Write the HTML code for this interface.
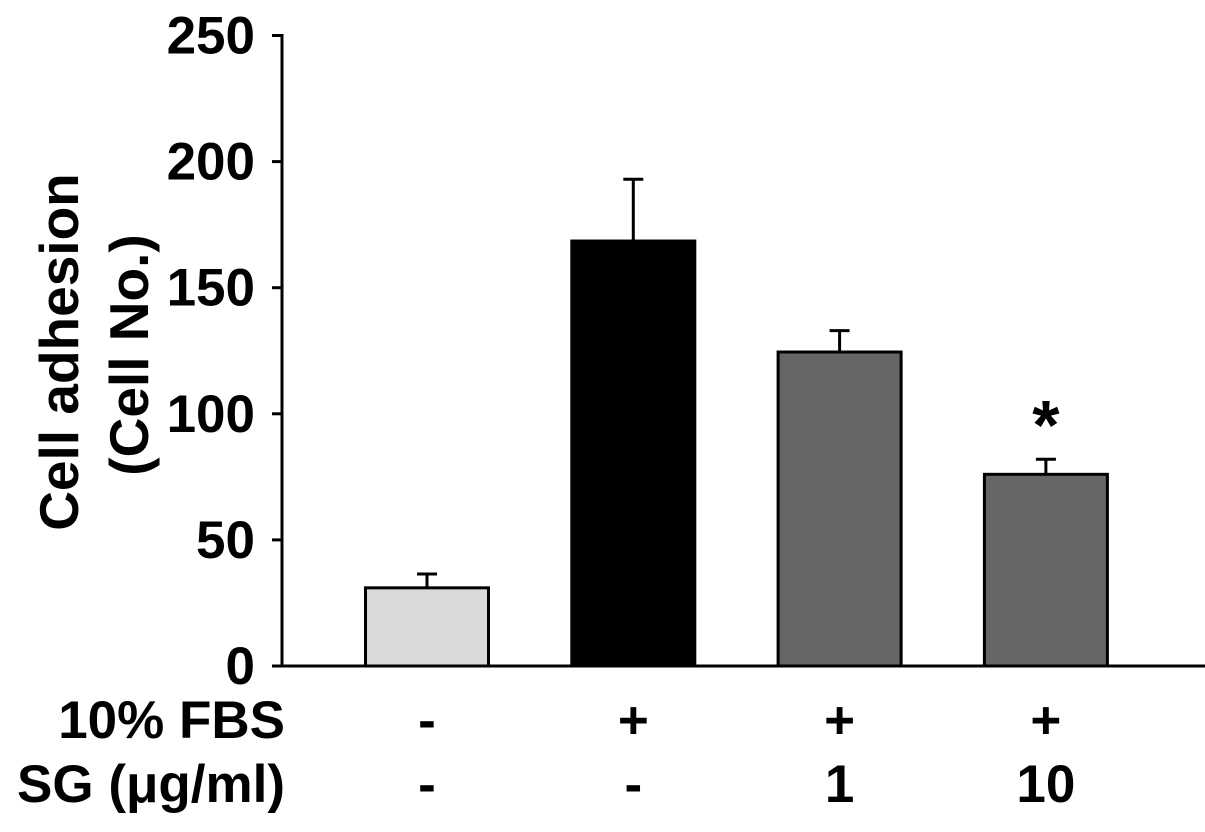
<!DOCTYPE html>
<html><head><meta charset="utf-8"><style>
body{margin:0;background:#fff}
text{font-family:"Liberation Sans",Arial,sans-serif;font-weight:bold;fill:#000}
</style></head><body>
<svg id="c" width="1205" height="827" viewBox="0 0 1205 827">
<g id="g"></g>
</svg>
<script>
const categories=["control","fbs","sg1","sg10"];
const values=[31,168.5,124.5,76];
const errors=[5.5,24.5,8.5,6];
const fills=["#d9d9d9","#000000","#666666","#666666"];
const yTicks=[0,50,100,150,200,250];
const fbsLabels=["-","+","+","+"];
const sgLabels=["-","-","1","10"];
const NS="http://www.w3.org/2000/svg";
const g=document.getElementById('g');
const y=v=>666-v*2.522;
const xc=i=>427+i*206.3;
function el(t,a,txt){const e=document.createElementNS(NS,t);for(const k in a)e.setAttribute(k,a[k]);if(txt!==undefined)e.textContent=txt;g.appendChild(e);return e;}
let e=el('line',{x1:282,y1:34,x2:282,y2:667,stroke:'#000','stroke-width':3});

e=el('line',{x1:272,y1:666,x2:1205,y2:666,stroke:'#000','stroke-width':3});

yTicks.forEach(v=>{
 let t=el('line',{x1:272,y1:y(v),x2:282,y2:y(v),stroke:'#000','stroke-width':3});
 
 let l=el('text',{x:255,y:y(v)+18,'text-anchor':'end','font-size':53},v);
 
});
values.forEach((v,i)=>{
 const cx=xc(i);
 let b=el('rect',{x:cx-61.5,y:y(v),width:123,height:666-y(v),fill:fills[i],stroke:'#000','stroke-width':3});
 
 let eb=el('path',{d:`M${cx},${y(v)} V${y(v+errors[i])} M${cx-10},${y(v+errors[i])} H${cx+10}`,stroke:'#000','stroke-width':3,fill:'none'});
 
 let a=el('text',{x:cx,y:738,'text-anchor':'middle','font-size':53},fbsLabels[i]);
 
 let s=el('text',{x:cx,y:802,'text-anchor':'middle','font-size':53},sgLabels[i]);
 
});
e=el('text',{x:xc(3),y:y(values[3]+errors[3])-10,'text-anchor':'middle','font-size':70},'*');

e=el('text',{x:285,y:738,'text-anchor':'end','font-size':53},'10% FBS');

e=el('text',{x:285,y:802,'text-anchor':'end','font-size':53},'SG (μg/ml)');

e=el('text',{transform:'translate(78,352) rotate(-90)','text-anchor':'middle','font-size':55},'Cell adhesion');

e=el('text',{transform:'translate(148,355) rotate(-90)','text-anchor':'middle','font-size':55},'(Cell No.)');

</script>
</body></html>
